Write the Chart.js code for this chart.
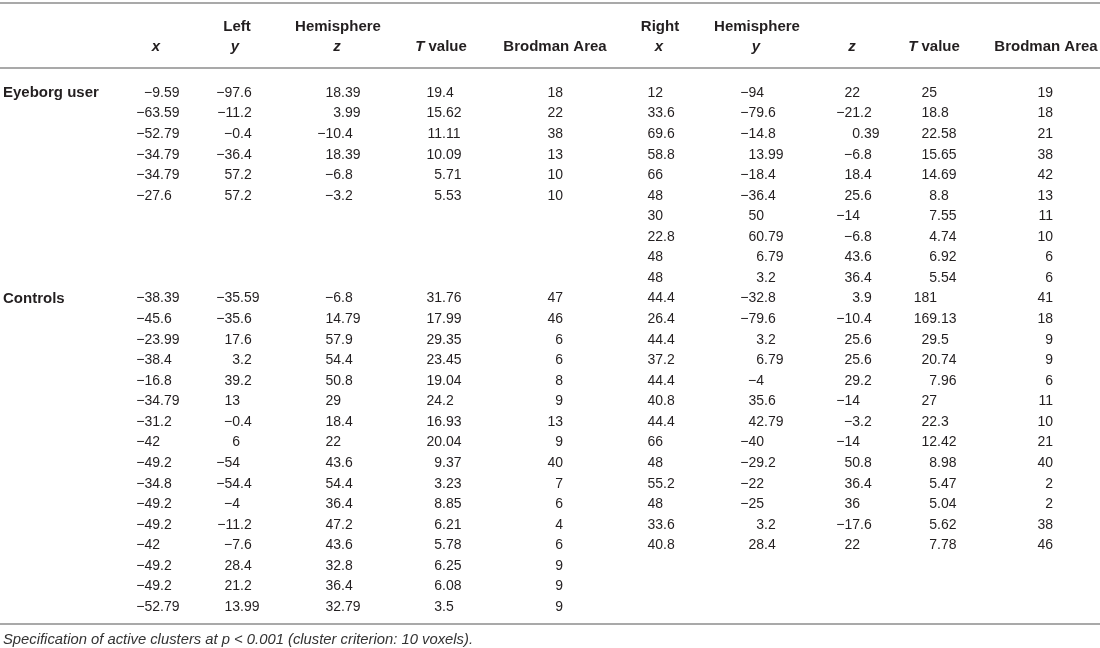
<!DOCTYPE html>
<html>
<head>
<meta charset="utf-8">
<script src="https://cdn.jsdelivr.net/npm/chart.js@4.4.1/dist/chart.umd.min.js"></script>
<style>
  html, body { margin: 0; padding: 0; background: #fff; }
  #wrap { width: 1100px; height: 648px; position: relative; }
</style>
</head>
<body>
<div id="wrap"><canvas id="table"></canvas></div>
<script>
// Left hemisphere - Eyeborg user
const leftEyeX  = [-9.59, -63.59, -52.79, -34.79, -34.79, -27.6];
const leftEyeY  = [-97.6, -11.2, -0.4, -36.4, 57.2, 57.2];
const leftEyeZ  = [18.39, 3.99, -10.4, 18.39, -6.8, -3.2];
const leftEyeT  = [19.4, 15.62, 11.11, 10.09, 5.71, 5.53];
const leftEyeBA = [18, 22, 38, 13, 10, 10];

// Right hemisphere - Eyeborg user
const rightEyeX  = [12, 33.6, 69.6, 58.8, 66, 48, 30, 22.8, 48, 48];
const rightEyeY  = [-94, -79.6, -14.8, 13.99, -18.4, -36.4, 50, 60.79, 6.79, 3.2];
const rightEyeZ  = [22, -21.2, 0.39, -6.8, 18.4, 25.6, -14, -6.8, 43.6, 36.4];
const rightEyeT  = [25, 18.8, 22.58, 15.65, 14.69, 8.8, 7.55, 4.74, 6.92, 5.54];
const rightEyeBA = [19, 18, 21, 38, 42, 13, 11, 10, 6, 6];

// Left hemisphere - Controls
const leftCtlX  = [-38.39, -45.6, -23.99, -38.4, -16.8, -34.79, -31.2, -42, -49.2, -34.8, -49.2, -49.2, -42, -49.2, -49.2, -52.79];
const leftCtlY  = [-35.59, -35.6, 17.6, 3.2, 39.2, 13, -0.4, 6, -54, -54.4, -4, -11.2, -7.6, 28.4, 21.2, 13.99];
const leftCtlZ  = [-6.8, 14.79, 57.9, 54.4, 50.8, 29, 18.4, 22, 43.6, 54.4, 36.4, 47.2, 43.6, 32.8, 36.4, 32.79];
const leftCtlT  = [31.76, 17.99, 29.35, 23.45, 19.04, 24.2, 16.93, 20.04, 9.37, 3.23, 8.85, 6.21, 5.78, 6.25, 6.08, 3.5];
const leftCtlBA = [47, 46, 6, 6, 8, 9, 13, 9, 40, 7, 6, 4, 6, 9, 9, 9];

// Right hemisphere - Controls
const rightCtlX  = [44.4, 26.4, 44.4, 37.2, 44.4, 40.8, 44.4, 66, 48, 55.2, 48, 33.6, 40.8];
const rightCtlY  = [-32.8, -79.6, 3.2, 6.79, -4, 35.6, 42.79, -40, -29.2, -22, -25, 3.2, 28.4];
const rightCtlZ  = [3.9, -10.4, 25.6, 25.6, 29.2, -14, -3.2, -14, 50.8, 36.4, 36, -17.6, 22];
const rightCtlT  = [181, 169.13, 29.5, 20.74, 7.96, 27, 22.3, 12.42, 8.98, 5.47, 5.04, 5.62, 7.78];
const rightCtlBA = [41, 18, 9, 9, 6, 11, 10, 21, 40, 2, 2, 38, 46];

const groups = ['Eyeborg user', 'Controls'];
const groupStartRow = [0, 10];
const footnote = 'Specification of active clusters at p < 0.001 (cluster criterion: 10 voxels).';

// layout: where each column's integer part ends (decimal alignment), in x-scale units
const colAnchor = [160, 240, 341, 442, 563, 663, 764, 860, 937, 1053];
// header cells: [text, centre, line]
const headers = [
  ['Left', 237, 0], ['Hemisphere', 338, 0], ['Right', 660, 0], ['Hemisphere', 757, 0],
  ['x', 156, 1], ['y', 235, 1], ['z', 337, 1], ['T value', 441, 1], ['Brodman Area', 555, 1],
  ['x', 659, 1], ['y', 756, 1], ['z', 852, 1], ['T value', 934, 1], ['Brodman Area', 1046, 1]
];

const cols = [
  [leftEyeX, leftEyeY, leftEyeZ, leftEyeT, leftEyeBA, rightEyeX, rightEyeY, rightEyeZ, rightEyeT, rightEyeBA],
  [leftCtlX, leftCtlY, leftCtlZ, leftCtlT, leftCtlBA, rightCtlX, rightCtlY, rightCtlZ, rightCtlT, rightCtlBA]
];

const datasets = [];
cols.forEach((groupCols, g) => {
  groupCols.forEach((vals, c) => {
    datasets.push({
      data: vals.map((v, i) => ({ x: colAnchor[c], y: groupStartRow[g] + i, label: v })),
      pointRadius: 0,
      showLine: false
    });
  });
});

const fmt = v => String(v).replace('-', '\u2212');
const textColor = '#231f20';
const ruleColor = '#8c8c8c';
const FONT = '"Liberation Sans", Arial, sans-serif';

const tablePlugin = {
  id: 'tableText',
  afterDatasetsDraw(chart) {
    const ctx = chart.ctx;
    const xs = chart.scales.x, ys = chart.scales.y;
    ctx.save();
    ctx.textBaseline = 'middle';
    ctx.fillStyle = textColor;

    // rules
    ctx.strokeStyle = ruleColor;
    ctx.lineWidth = 1.5;
    [-4.38, -1.22, 25.83].forEach(r => {
      const py = ys.getPixelForValue(r);
      ctx.beginPath();
      ctx.moveTo(xs.getPixelForValue(0), py);
      ctx.lineTo(xs.getPixelForValue(1100), py);
      ctx.stroke();
    });

    // headers
    const lineRow = [-3.21, -2.24];
    headers.forEach(([txt, cx, line]) => {
      const py = ys.getPixelForValue(lineRow[line]);
      const px = xs.getPixelForValue(cx);
      if (txt === 'T value') {
        ctx.font = 'italic bold 15px ' + FONT;
        const w1 = ctx.measureText('T').width;
        ctx.font = 'bold 15px ' + FONT;
        const w2 = ctx.measureText(' value').width;
        const x0 = px - (w1 + w2) / 2;
        ctx.textAlign = 'left';
        ctx.font = 'italic bold 15px ' + FONT;
        ctx.fillText('T', x0, py);
        ctx.font = 'bold 15px ' + FONT;
        ctx.fillText(' value', x0 + w1, py);
      } else {
        const italic = txt.length === 1;
        ctx.font = (italic ? 'italic ' : '') + 'bold 15px ' + FONT;
        ctx.textAlign = 'center';
        ctx.fillText(txt, px, py);
      }
    });

    // group labels
    ctx.font = 'bold 15px ' + FONT;
    ctx.textAlign = 'left';
    groups.forEach((g, i) => {
      ctx.fillText(g, xs.getPixelForValue(3), ys.getPixelForValue(groupStartRow[i]));
    });

    // cells, decimal aligned
    ctx.font = '14px ' + FONT;
    chart.data.datasets.forEach(ds => {
      ds.data.forEach(p => {
        const s = fmt(p.label);
        const intPart = s.split('.')[0];
        const w = ctx.measureText(intPart).width;
        ctx.fillText(s, xs.getPixelForValue(p.x) - w, ys.getPixelForValue(p.y));
      });
    });

    // footnote
    ctx.font = 'italic 14.8px ' + FONT;
    ctx.fillStyle = '#333';
    ctx.fillText(footnote, xs.getPixelForValue(3), ys.getPixelForValue(26.6));
    ctx.restore();
  }
};

new Chart(document.getElementById('table'), {
  type: 'scatter',
  data: { datasets: datasets },
  options: {
    responsive: true,
    maintainAspectRatio: false,
    animation: false,
    layout: { padding: 0 },
    plugins: { legend: { display: false }, tooltip: { enabled: false } },
    scales: {
      x: { type: 'linear', min: 0, max: 1100, display: false },
      y: { type: 'linear', min: -4.523, max: 26.994, reverse: true, display: false }
    }
  },
  plugins: [tablePlugin]
});
</script>
</body>
</html>
